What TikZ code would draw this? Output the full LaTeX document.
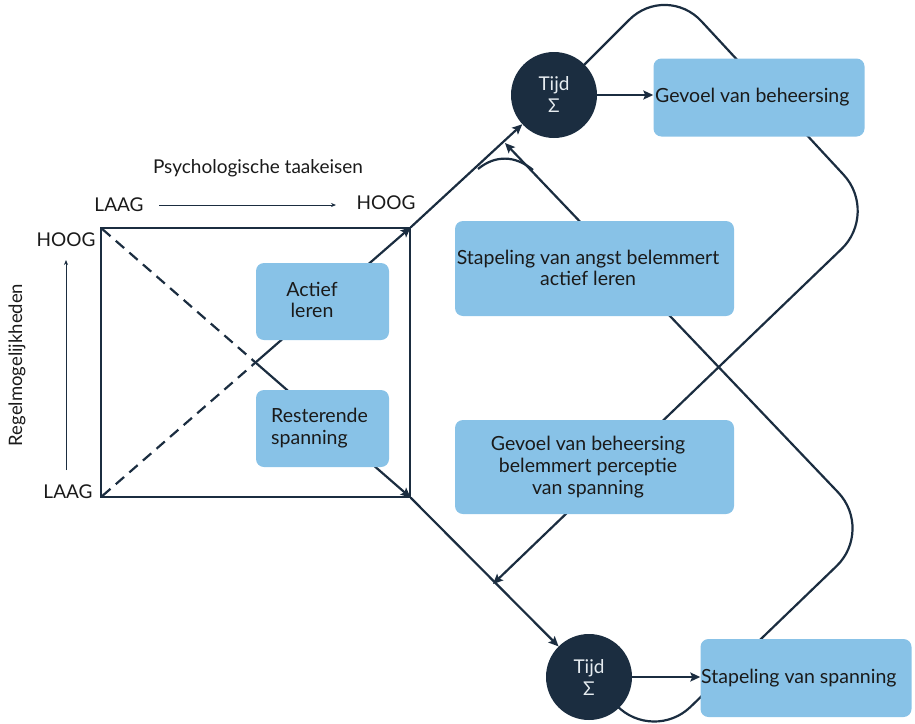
\documentclass[tikz,border=0pt]{standalone}
\usepackage{fontspec}
\setmainfont{Lato}
\usetikzlibrary{arrows.meta}
\definecolor{navy}{HTML}{1B2D40}
\definecolor{boxblue}{HTML}{88C2E7}
\definecolor{txt}{HTML}{1A1A1A}
\definecolor{ctxt}{HTML}{E6ECF0}
\pgfdeclarelayer{bg}
\pgfsetlayers{bg,main}
\begin{document}
\begin{tikzpicture}[x=1pt,y=-1pt,
  box/.style={fill=boxblue, rounded corners=8pt, inner sep=0pt, draw=none},
  circ/.style={circle, fill=navy, minimum size=86pt, inner sep=0pt, text=ctxt,
    font=\fontsize{19}{22}\selectfont, align=center},
  lbl/.style={text=txt, font=\fontsize{19}{22}\selectfont, inner sep=0pt},
  btxt/.style={text=txt, font=\fontsize{19.5}{21.5}\selectfont, inner sep=0pt, align=center},
  conn/.style={draw=navy, line width=2.2pt, -{Stealth[length=10pt,width=9pt,inset=2pt]}},
  plain/.style={draw=navy, line width=2.2pt},
  loopline/.style={draw=navy, line width=2.2pt, rounded corners=52pt,
    -{Stealth[length=10pt,width=9pt,inset=2pt]}},
  axis/.style={draw=navy, line width=0.8pt, -{Stealth[length=5pt,width=4pt]}},
  dashline/.style={draw=navy, line width=2.2pt, dash pattern=on 11pt off 7pt,
    {Stealth[length=4pt,width=4pt]}-}
]
\useasboundingbox (0,0) rectangle (915,723);

% square
\node[draw=navy, line width=1.3pt, minimum width=309pt, minimum height=269pt, inner sep=0pt] (sq) at (255.5,362.5) {};

% boxes
\node[box, minimum width=133pt, minimum height=77pt] (act) at (322.5,301.5) {};
\node[box, minimum width=133pt, minimum height=77pt] (rest) at (322.5,428.5) {};
\node[box, minimum width=279pt, minimum height=95pt] (angst) at (594.5,268.5) {};
\node[box, minimum width=279pt, minimum height=94pt] (perc) at (594.5,467) {};
\node[box, minimum width=211pt, minimum height=78pt] (gvb) at (759,97.5) {};
\node[box, minimum width=211pt, minimum height=78pt] (svs) at (806,678) {};

% circles
\node[circ] (ctop) at (554,95) {Tijd\\Σ};
\node[circ] (cbot) at (589,677) {Tijd\\Σ};

% box texts
\node[btxt, anchor=west] (gvbT) at (655,97) {Gevoel van beheersing};
\node[btxt, anchor=west] (svsT) at (701,678) {Stapeling van spanning};
\node[btxt] (angstT) at (588,268) {Stapeling van angst belemmert\\actief leren};
\node[btxt, font=\fontsize{19.5}{22}\selectfont] (percT) at (588,467) {Gevoel van beheersing\\belemmert perceptie\\van spanning};
\node[btxt] (actT) at (312,300) {Actief\\leren};
\node[btxt, align=left, anchor=west] (restT) at (271,428) {Resterende\\spanning};

% axis labels
\node[lbl, font=\fontsize{19}{22}\selectfont] (title) at (258,168) {Psychologische taakeisen};
\node[lbl] (xlo) at (119,205) {LAAG};
\node[lbl] (xhi) at (386,203) {HOOG};
\node[lbl] (yhi) at (66,240) {HOOG};
\node[lbl] (ylo) at (68,492) {LAAG};
\node[lbl, font=\fontsize{18.5}{20}\selectfont, rotate=90] (ytitle) at (17,365) {Regelmogelijkheden};

% coordinates for loops
\coordinate (tc) at (666,-17);
\coordinate (rc1) at (879,213);
\coordinate (tip1) at (493,584);
\coordinate (bc) at (653,743);
\coordinate (rc2) at (874,530);
\coordinate (tip2) at (505,143);
\coordinate (a1) at (533,170);
\coordinate (a2) at (478,169);
\coordinate (ax1) at (159,205);
\coordinate (ax2) at (336,205);
\coordinate (ay1) at (66,470);
\coordinate (ay2) at (66,260);

\begin{pgfonlayer}{bg}
  % dashed diagonals
  \draw[dashline] (sq.north west) -- (sq.center);
  \draw[dashline] (sq.south west) -- (sq.center);
  % solid continuation
  \draw[conn] (sq.center) -- (sq.south east);
  \draw[conn] (sq.center) -- (sq.north east);
  \draw[conn] (sq.north east) -- (ctop);
  \draw[conn] (sq.south east) -- (cbot);
  % circle to box
  \draw[conn] (ctop.east) -- (ctop.east -| gvb.west);
  \draw[conn] (cbot.east) -- (cbot.east -| svs.west);
  % loops
  \draw[loopline] (ctop.center) -- (tc) -- (rc1) -- (tip1);
  \draw[loopline] (cbot.center) -- (bc) -- (rc2) -- (tip2);
  \draw[plain] (a1) .. controls (515,155) and (495,155) .. (a2);
  % axes
  \draw[axis] (ax1) -- (ax2);
  \draw[axis] (ay1) -- (ay2);
\end{pgfonlayer}
\end{tikzpicture}
\end{document}
